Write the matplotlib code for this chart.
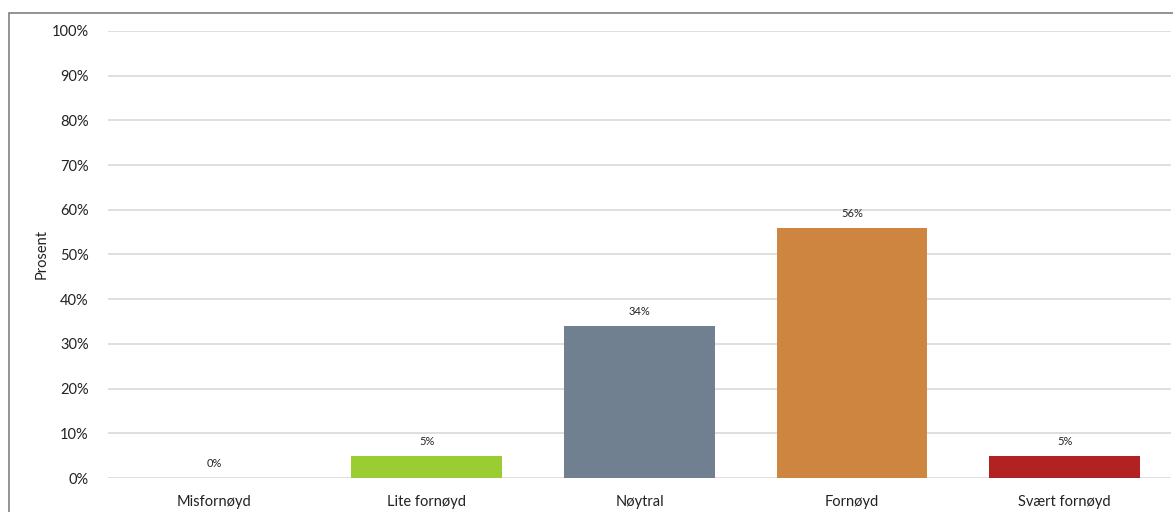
import matplotlib.pyplot as plt
from matplotlib.patches import Rectangle
from matplotlib.ticker import FuncFormatter

categories = ["Misfornøyd", "Lite fornøyd", "Nøytral", "Fornøyd", "Svært fornøyd"]
values = [0, 5, 34, 56, 5]
colors = ["#9ACD32", "#9ACD32", "#708090", "#CD853F", "#B22222"]
yticks = list(range(0, 101, 10))

plt.rcParams['font.family'] = ['Lato', 'DejaVu Sans']

fig = plt.figure(figsize=(11.73, 5.12), dpi=100)
ax = fig.add_axes([0.0921, 0.0664, 0.9061, 0.8731])

x = range(len(categories))
bars = ax.bar(x, values, width=0.71, color=colors, zorder=3)
for b, v in zip(bars, values):
    ax.text(b.get_x() + b.get_width() / 2, v + 2.0, f"{v}%",
            ha='center', va='bottom', fontsize=8, color='#222222')

ax.set_xlim(-0.5, len(categories) - 0.5)
ax.set_ylim(0, 100)
ax.set_yticks(yticks)
ax.yaxis.set_major_formatter(FuncFormatter(lambda v, _: f"{v:.0f}%"))
ax.set_xticks(list(x))
ax.set_xticklabels(categories)
ax.tick_params(axis='y', length=0, pad=14, labelsize=10.5, labelcolor='#222222')
ax.tick_params(axis='x', length=0, pad=12, labelsize=10.5, labelcolor='#222222')
ax.grid(axis='y', color='#d9d9d9', linewidth=1.2, zorder=0)
for s in ax.spines.values():
    s.set_visible(False)
ax.set_ylabel("Prosent", fontsize=10.5, color='#222222', labelpad=2)

# outer chart frame
fig.patches.append(Rectangle((9 / 1173, -0.1), 1.1, (512 - 13) / 512 + 0.1,
                             transform=fig.transFigure, fill=False,
                             edgecolor='#808080', linewidth=1.2))

fig.savefig("out.png", dpi=100)
